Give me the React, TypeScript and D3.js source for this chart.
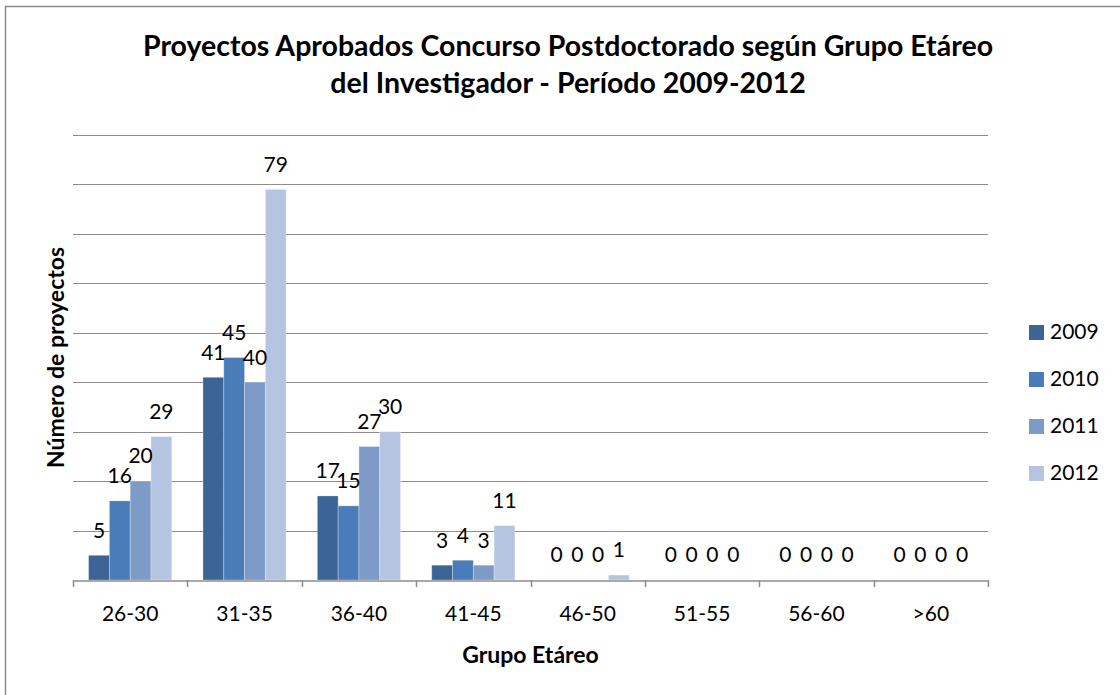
import * as d3 from 'd3';
import { useEffect, useRef } from 'react';

const categories = ['26-30', '31-35', '36-40', '41-45', '46-50', '51-55', '56-60', '>60'];
const years = ['2009', '2010', '2011', '2012'];
const values2009 = [5, 41, 17, 3, 0, 0, 0, 0];
const values2010 = [16, 45, 15, 4, 0, 0, 0, 0];
const values2011 = [20, 40, 27, 3, 0, 0, 0, 0];
const values2012 = [29, 79, 30, 11, 1, 0, 0, 0];
const seriesValues = [values2009, values2010, values2011, values2012];
const yTicks = [0, 10, 20, 30, 40, 50, 60, 70, 80, 90];

const titleLines = [
  'Proyectos Aprobados Concurso Postdoctorado según Grupo Etáreo',
  'del Investigador - Período 2009-2012',
];

const colors = ['#3c6496', '#4a7cb9', '#7e9bc8', '#b5c4e0'];
const font = 'Lato, Calibri, "Open Sans", sans-serif';

const App = () => {
  const chartRef = useRef(null);
  const width = 1120;
  const height = 695;

  const margin = {
    top: 135,
    bottom: 115,
    left: 73,
    right: 132,
  };
  const boundsWidth = width - margin.left - margin.right;
  const boundsHeight = height - margin.top - margin.bottom;

  useEffect(() => {
    const svg = d3.select(chartRef.current);
    svg.selectAll('*').remove();

    // outer frame (only top/left edges fall inside the picture)
    svg
      .append('rect')
      .attr('x', 5.5)
      .attr('y', 6.5)
      .attr('width', 1300)
      .attr('height', 900)
      .style('fill', 'white')
      .style('stroke', '#8a8a8a')
      .style('stroke-width', 1.5);

    const scaleX = d3
      .scaleBand()
      .domain(categories)
      .range([margin.left, margin.left + boundsWidth]);

    // excel gap width 150%
    const barWidth = scaleX.bandwidth() / 5.5;
    const groupOffset = (scaleX.bandwidth() - barWidth * 4) / 2;
    const seriesScale = d3
      .scaleBand()
      .domain(years)
      .range([groupOffset, groupOffset + barWidth * 4]);

    const scaleY = d3
      .scaleLinear()
      .domain([0, 90])
      .range([margin.top + boundsHeight, margin.top]);

    // gridlines
    svg
      .append('g')
      .selectAll('line')
      .data(yTicks.slice(1))
      .enter()
      .append('line')
      .attr('x1', margin.left)
      .attr('x2', margin.left + boundsWidth)
      .attr('y1', (d) => Math.round(scaleY(d)) + 0.5)
      .attr('y2', (d) => Math.round(scaleY(d)) + 0.5)
      .style('stroke', '#8c8c8c')
      .style('stroke-width', 1);

    // bars
    years.forEach((year, si) => {
      svg
        .append('g')
        .selectAll('rect')
        .data(categories)
        .enter()
        .append('rect')
        .attr('x', (c) => scaleX(c) + seriesScale(year))
        .attr('y', (c, i) => scaleY(seriesValues[si][i]))
        .attr('width', seriesScale.bandwidth())
        .attr('height', (c, i) => scaleY(0) - scaleY(seriesValues[si][i]))
        .style('fill', colors[si])
        .style('stroke', 'rgba(255,255,255,0.35)')
        .style('stroke-width', 0.8);
    });

    // x axis
    const xAxis = d3
      .axisBottom(scaleX)
      .tickSize(0)
      .tickPadding(26);
    const gx = svg
      .append('g')
      .attr('transform', `translate(0, ${Math.round(scaleY(0)) + 0.5})`)
      .call(xAxis);
    gx.select('.domain').style('stroke', '#8c8c8c').style('stroke-width', 1.5);
    gx.selectAll('text')
      .style('font-family', font)
      .style('font-size', '21px')
      .style('fill', '#000');

    // boundary ticks
    svg
      .append('g')
      .selectAll('line')
      .data(d3.range(categories.length + 1))
      .enter()
      .append('line')
      .attr('x1', (i) => Math.round(margin.left + i * scaleX.step()) + 0.5)
      .attr('x2', (i) => Math.round(margin.left + i * scaleX.step()) + 0.5)
      .attr('y1', scaleY(0))
      .attr('y2', scaleY(0) + 7)
      .style('stroke', '#8c8c8c')
      .style('stroke-width', 1.5);

    // data labels
    years.forEach((year, si) => {
      svg
        .append('g')
        .selectAll('text')
        .data(categories)
        .enter()
        .append('text')
        .attr('x', (c) => scaleX(c) + seriesScale(year) + seriesScale.bandwidth() / 2)
        .attr('y', (c, i) => scaleY(seriesValues[si][i]) - 25)
        .attr('dy', '0.35em')
        .attr('text-anchor', 'middle')
        .style('font-family', font)
        .style('font-size', '21px')
        .style('fill', '#000')
        .text((c, i) => seriesValues[si][i]);
    });

    // title
    svg
      .append('g')
      .selectAll('text')
      .data(titleLines)
      .enter()
      .append('text')
      .attr('x', 568)
      .attr('y', (d, i) => 56 + i * 37)
      .attr('text-anchor', 'middle')
      .style('font-family', font)
      .style('font-weight', 'bold')
      .style('font-size', '28.5px')
      .text((d) => d);

    // axis titles
    svg
      .append('text')
      .attr('x', margin.left + boundsWidth / 2)
      .attr('y', 655)
      .attr('dy', '0.35em')
      .attr('text-anchor', 'middle')
      .style('font-family', font)
      .style('font-weight', 'bold')
      .style('font-size', '23px')
      .text('Grupo Etáreo');

    svg
      .append('text')
      .attr('transform', `translate(56, ${margin.top + boundsHeight / 2}) rotate(-90)`)
      .attr('dy', '0.35em')
      .attr('text-anchor', 'middle')
      .style('font-family', font)
      .style('font-weight', 'bold')
      .style('font-size', '23px')
      .text('Número de proyectos');

    // legend
    const legend = svg
      .append('g')
      .selectAll('g')
      .data(years)
      .enter()
      .append('g')
      .attr('transform', (d, i) => `translate(1029, ${332 + i * 47})`);
    legend
      .append('rect')
      .attr('x', 0)
      .attr('y', -7)
      .attr('width', 15)
      .attr('height', 15)
      .style('fill', (d, i) => colors[i]);
    legend
      .append('text')
      .attr('x', 21)
      .attr('y', 0)
      .attr('dy', '0.35em')
      .style('font-family', font)
      .style('font-size', '21px')
      .text((d) => d);
  }, [boundsHeight, boundsWidth, margin.left, margin.top]);

  return (
    <svg
      ref={chartRef}
      width={width}
      height={height}
      style={{ position: 'absolute', left: 0, top: 0, background: 'white' }}
    />
  );
};

export default App;
